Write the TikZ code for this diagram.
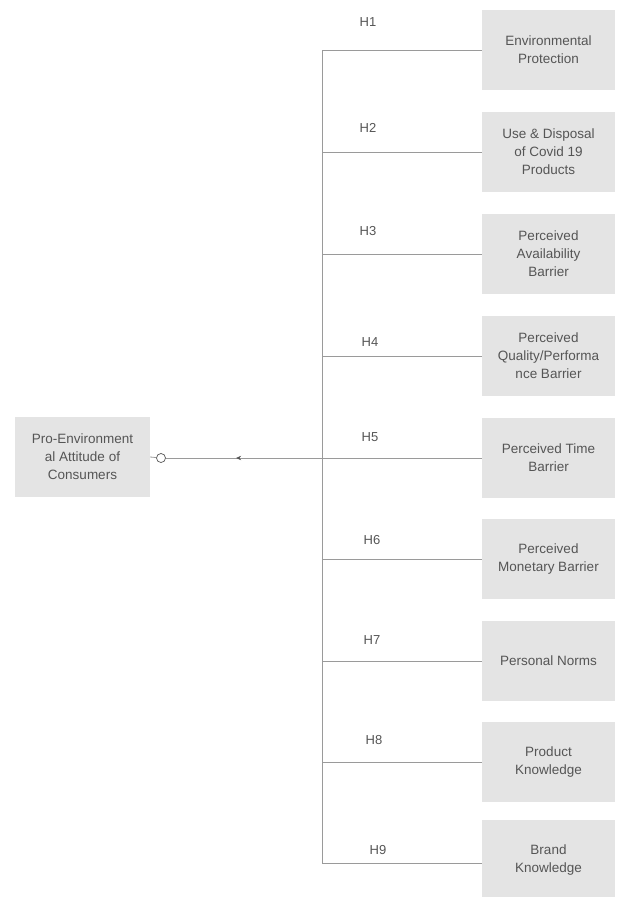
\documentclass[tikz,border=0pt]{standalone}
\usepackage{fontspec}
\setmainfont{Liberation Sans}
\usetikzlibrary{arrows.meta,decorations.markings}
\definecolor{boxgray}{HTML}{E4E4E4}
\definecolor{linegray}{HTML}{9A9A9A}
\definecolor{textgray}{HTML}{555555}

\begin{document}
\begin{tikzpicture}[x=1pt,y=-1pt,
    every node/.style={font=\fontsize{13.5}{18}\selectfont,text=textgray},
    factor/.style={fill=boxgray,minimum width=133pt,minimum height=80pt,align=center,inner sep=1pt},
    link/.style={draw=linegray,line width=0.8pt},
    hyp/.style={font=\fontsize{13}{15}\selectfont}]
    \useasboundingbox (0,0) rectangle (617,897);
    % outcome
    \node[factor,minimum width=135pt] (attitude) at (82.5,457) {Pro-Environment\\al Attitude of\\Consumers};
    \node[draw=textgray,circle,fill=white,inner sep=0pt,minimum size=9pt,line width=0.7pt] (joint) at (161,458) {};
    % factors
    \node[factor] (env) at (548.5,50) {Environmental\\Protection};
    \node[factor] (covid) at (548.5,152) {Use \& Disposal\\of Covid 19\\Products};
    \node[factor] (avail) at (548.5,254) {Perceived\\Availability\\Barrier};
    \node[factor] (quality) at (548.5,356) {Perceived\\Quality/Performa\\nce Barrier};
    \node[factor] (time) at (548.5,458) {Perceived Time\\Barrier};
    \node[factor] (money) at (548.5,559) {Perceived\\Monetary Barrier};
    \node[factor] (norms) at (548.5,661) {Personal Norms};
    \node[factor] (prodk) at (548.5,762) {Product\\Knowledge};
    \node[factor] (brandk) at (548.5,860) {Brand\\Knowledge};
    % trunk
    \coordinate (top) at (322,50);
    \coordinate (hub) at (322,458);
    \coordinate (bottom) at (322,863);
    \draw[link] (top) -- (bottom);
    \draw[link] (top) -- (env.west);
    \draw[link] (322,152) -- (covid.west);
    \draw[link] (322,254) -- (avail.west);
    \draw[link] (322,356) -- (quality.west);
    \draw[link] (hub) -- (time.west);
    \draw[link] (322,559) -- (money.west);
    \draw[link] (322,661) -- (norms.west);
    \draw[link] (322,762) -- (prodk.west);
    \draw[link] (bottom) -- (brandk.west |- bottom);
    % main line with arrow
    \draw[link,postaction={decorate},decoration={markings,
        mark=at position 0.55 with {\arrow{Stealth[length=5pt,width=4.5pt,color=textgray]}}}]
        (hub) -- (joint);
    \draw[link] (joint) -- (attitude.east);
    % hypothesis labels
    \node[hyp] (h1) at (368,22) {H1};
    \node[hyp] (h2) at (368,128) {H2};
    \node[hyp] (h3) at (368,231) {H3};
    \node[hyp] (h4) at (370,342) {H4};
    \node[hyp] (h5) at (370,437) {H5};
    \node[hyp] (h6) at (372,540) {H6};
    \node[hyp] (h7) at (372,640) {H7};
    \node[hyp] (h8) at (374,740) {H8};
    \node[hyp] (h9) at (378,850) {H9};
  \end{tikzpicture}
\end{document}
